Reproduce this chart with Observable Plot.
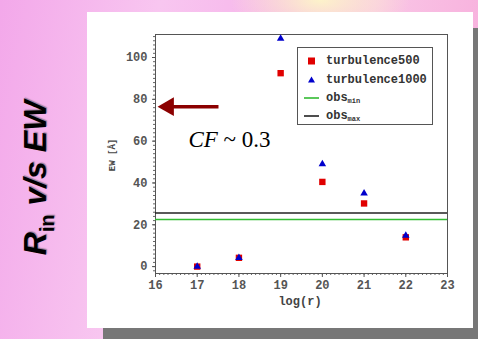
<!DOCTYPE html>
<html>
<head>
<meta charset="utf-8">
<script src="https://cdn.jsdelivr.net/npm/d3@7"></script>
<script src="https://cdn.jsdelivr.net/npm/@observablehq/plot@0.6"></script>
<style>
  html, body { margin: 0; padding: 0; }
  body {
    width: 478px; height: 339px; overflow: hidden; position: relative;
    background:
      radial-gradient(ellipse 90px 40px at 320px 0px, rgba(253,246,200,0.95), rgba(253,246,200,0) 100%),
      linear-gradient(100deg, #f3a8ea 0%, #f8c6f0 30%, #f6b3ea 55%, #f9c6e6 70%, #f7a9da 100%);
  }
  #shadow { position: absolute; left: 103px; top: 28px; width: 375px; height: 311px; background: #777; }
  #panel { position: absolute; left: 87px; top: 12px; width: 386px; height: 316px; background: #fff; }
  #chart { position: absolute; left: 0; top: 0; }
  #title {
    position: absolute; left: 38px; top: 178px; transform: translate(-50%, -50%) rotate(-90deg);
    font-family: "Liberation Sans", Arial, sans-serif; font-weight: bold; font-style: italic;
    font-size: 32px; white-space: nowrap; color: #000; text-shadow: 1px 1px 1px rgba(80,80,80,0.5);
  }
  #title sub { font-size: 20px; vertical-align: -8px; font-style: normal; }
  #legend {
    position: absolute; left: 297px; top: 47px; width: 136px; height: 78px;
    border: 1px solid #555; background: #fff; box-sizing: border-box;
    font-family: "Liberation Mono", monospace; font-weight: bold; font-size: 12px; color: #333;
  }
  .row { position: absolute; left: 0; height: 16px; display: flex; align-items: center; }
  .row svg { width: 28px; height: 16px; }
  .row sub { font-size: 7px; vertical-align: -2px; }
  .axlabel { position: absolute; font-family: "Liberation Mono", monospace; font-weight: bold; color: #444; white-space: nowrap; }
  #xlabel { left: 300px; top: 302px; font-size: 12px; transform: translate(-50%, -50%); }
  #ylabel { left: 113px; top: 155px; font-size: 9px; transform: translate(-50%, -50%) rotate(-90deg); }
</style>
</head>
<body>
<div id="shadow"></div>
<div id="panel"></div>
<div id="title">R<sub>in</sub> v/s EW</div>
<div id="chart"></div>
<div id="legend"></div>
<div class="axlabel" id="xlabel"></div>
<div class="axlabel" id="ylabel"></div>
<script>
// ---- data ----
const logR = [17, 18, 19, 20, 21, 22];
const turbulence500 = [0, 4.2, 92.5, 40.5, 30.2, 14];
const turbulence1000 = [0, 4.2, 109, 49, 35, 14.8];
const obsMin = 22.5;
const obsMax = 25.6;
const xTicks = [16, 17, 18, 19, 20, 21, 22, 23];
const yTicks = [0, 20, 40, 60, 80, 100];
const xTitle = "log(r)";
const yTitle = "EW [Å]";
const arrowFrom = {x: 17.51, y: 76.5};
const arrowTip = {x: 16.31, y: 76.5};
const cfLabel = {x: 16.79, y: 60.6};
const cfValue = {x: 17.63, y: 60.6};

const seriesNames = ["turbulence500", "turbulence1000"];
const red = "#e00000", blue = "#0000cc", green = "#33bb33", black = "#222";

const d500 = logR.map((x, i) => ({x, y: turbulence500[i]}));
const d1000 = logR.map((x, i) => ({x, y: turbulence1000[i]}));
const minorX = d3.range(16, 23.001, 0.1);
const minorY = d3.range(-2, 111, 2);

const plot = Plot.plot({
  width: 478,
  height: 339,
  marginLeft: 155,
  marginRight: 31,
  marginTop: 34,
  marginBottom: 66,
  style: {background: "transparent", fontFamily: "Liberation Mono, monospace", fontWeight: "bold", fontSize: "12px", color: "#555"},
  x: {domain: [16, 23]},
  y: {domain: [-3.3, 111]},
  marks: [
    Plot.axisX(minorX, {tickSize: 2, tickFormat: () => "", label: null, stroke: "#666"}),
    Plot.axisY(minorY, {tickSize: 2, tickFormat: () => "", label: null, stroke: "#666"}),
    Plot.axisX(xTicks, {tickSize: 4, tickPadding: 3, label: null, tickFormat: d => d}),
    Plot.axisY(yTicks, {tickSize: 3, tickPadding: 5, label: null, tickFormat: d => d}),
    Plot.frame({stroke: "#555"}),
    Plot.ruleY([obsMax], {stroke: black, strokeWidth: 1.6}),
    Plot.ruleY([obsMin], {stroke: green, strokeWidth: 1.6}),
    Plot.dot(d500, {x: "x", y: "y", symbol: "square", r: 3.6, fill: red}),
    Plot.dot(d1000, {x: "x", y: "y", symbol: "triangle", r: 2.8, fill: blue}),
    Plot.link([{x1: arrowFrom.x, x2: arrowTip.x + 0.05, y: arrowFrom.y}], {x1: "x1", x2: "x2", y1: "y", y2: "y", stroke: "#8b0000", strokeWidth: 3.5}),
    Plot.dot([arrowTip], {x: "x", y: "y", symbol: "triangle", r: 7, rotate: -90, fill: "#8b0000"}),
    Plot.text([cfLabel], {x: "x", y: "y", text: () => "CF", textAnchor: "start", fontFamily: "Liberation Serif, serif", fontStyle: "italic", fontWeight: "normal", fontSize: 23, fill: "#000"}),
    Plot.text([cfValue], {x: "x", y: "y", text: () => "~ 0.3", textAnchor: "start", fontFamily: "Liberation Serif, serif", fontWeight: "normal", fontSize: 23, fill: "#000"})
  ]
});
document.getElementById("chart").appendChild(plot);
document.getElementById("xlabel").textContent = xTitle;
document.getElementById("ylabel").textContent = yTitle;

// ---- legend ----
const legend = document.getElementById("legend");
const entries = [
  {label: seriesNames[0], sym: `<rect x="10" y="4.5" width="7" height="7" fill="${red}"/>`},
  {label: seriesNames[1], sym: `<path d="M13.5,4.5 L17,10.5 L10,10.5 Z" fill="${blue}"/>`},
  {label: "obs<sub>min</sub>", sym: `<line x1="6" x2="21" y1="8" y2="8" stroke="${green}" stroke-width="1.6"/>`},
  {label: "obs<sub>max</sub>", sym: `<line x1="6" x2="21" y1="8" y2="8" stroke="${black}" stroke-width="1.6"/>`}
];
const rowTops = [5, 24, 42, 60];
entries.forEach((e, i) => {
  const row = document.createElement("div");
  row.className = "row";
  row.style.top = rowTops[i] + "px";
  row.innerHTML = `<svg viewBox="0 0 28 16">${e.sym}</svg><span>${e.label}</span>`;
  legend.appendChild(row);
});
</script>
</body>
</html>
